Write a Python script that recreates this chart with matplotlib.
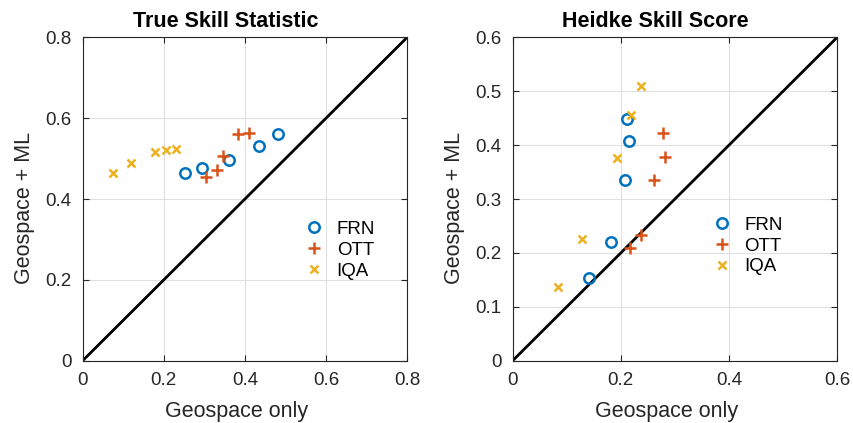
import matplotlib.pyplot as plt

plt.rcParams['font.family'] = ['Liberation Sans', 'DejaVu Sans']

# True Skill Statistic
tss_frn_x = [0.253, 0.294, 0.361, 0.435, 0.482]
tss_frn_y = [0.464, 0.477, 0.497, 0.531, 0.561]
tss_ott_x = [0.303, 0.332, 0.347, 0.384, 0.411]
tss_ott_y = [0.455, 0.472, 0.506, 0.562, 0.564]
tss_iqa_x = [0.074, 0.120, 0.179, 0.205, 0.230]
tss_iqa_y = [0.465, 0.490, 0.516, 0.521, 0.524]

# Heidke Skill Score
hss_frn_x = [0.211, 0.216, 0.208, 0.181, 0.141]
hss_frn_y = [0.449, 0.408, 0.336, 0.221, 0.154]
hss_ott_x = [0.278, 0.281, 0.262, 0.238, 0.217]
hss_ott_y = [0.422, 0.377, 0.335, 0.233, 0.210]
hss_iqa_x = [0.238, 0.219, 0.192, 0.129, 0.083]
hss_iqa_y = [0.509, 0.455, 0.376, 0.226, 0.137]

blue = '#0072BD'
orange = '#D95319'
yellow = '#EDB120'
dark = '#262626'

fig = plt.figure(figsize=(8.54, 4.23), dpi=100)
ax1 = fig.add_axes([0.0968, 0.1473, 0.380, 0.7645])
ax2 = fig.add_axes([0.6003, 0.1473, 0.380, 0.7645])


def draw(ax, lim, xticks, yticks, fx, fy, ox, oy, ix, iy, title, legpos):
    ax.grid(True, color='#e0e0e0', linewidth=0.8)
    ax.set_axisbelow(True)
    ax.plot([0, lim], [0, lim], color='black', linewidth=2)
    ax.plot(fx, fy, 'o', mfc='none', mec=blue, mew=1.8, ms=7.5, label='FRN')
    ax.plot(ox, oy, '+', color=orange, mew=1.8, ms=9, label='OTT')
    ax.plot(ix, iy, 'x', color=yellow, mew=1.8, ms=5.5, label='IQA')
    ax.set_xlim(0, lim)
    ax.set_ylim(0, lim)
    ax.set_xticks(xticks)
    ax.set_yticks(yticks)
    ax.set_xticklabels([('%g' % t) for t in xticks])
    ax.set_yticklabels([('%g' % t) for t in yticks])
    ax.tick_params(direction='in', top=True, right=True, labelsize=13.5,
                   colors=dark, length=4, pad=8)
    for s in ax.spines.values():
        s.set_color(dark)
        s.set_linewidth(0.8)
    ax.set_title(title, fontsize=15.5, fontweight='bold', pad=7.5, x=0.44)
    ax.set_xlabel('Geospace only', fontsize=15.5, color=dark)
    ax.set_ylabel('Geospace + ML', fontsize=15.5, color=dark)
    ax.xaxis.set_label_coords(0.475, -0.125)
    ax.yaxis.set_label_coords(-0.148, 0.472)
    ax.legend(loc='upper left', bbox_to_anchor=legpos, frameon=False,
              fontsize=13.5, handletextpad=0.45, handlelength=1.5,
              labelspacing=0.2)


draw(ax1, 0.8, [0, 0.2, 0.4, 0.6, 0.8], [0, 0.2, 0.4, 0.6, 0.8],
     tss_frn_x, tss_frn_y, tss_ott_x, tss_ott_y, tss_iqa_x, tss_iqa_y,
     'True Skill Statistic', (0.618, 0.485))
draw(ax2, 0.6, [0, 0.2, 0.4, 0.6], [0, 0.1, 0.2, 0.3, 0.4, 0.5, 0.6],
     hss_frn_x, hss_frn_y, hss_ott_x, hss_ott_y, hss_iqa_x, hss_iqa_y,
     'Heidke Skill Score', (0.55, 0.498))

fig.savefig('out.png', dpi=100)
